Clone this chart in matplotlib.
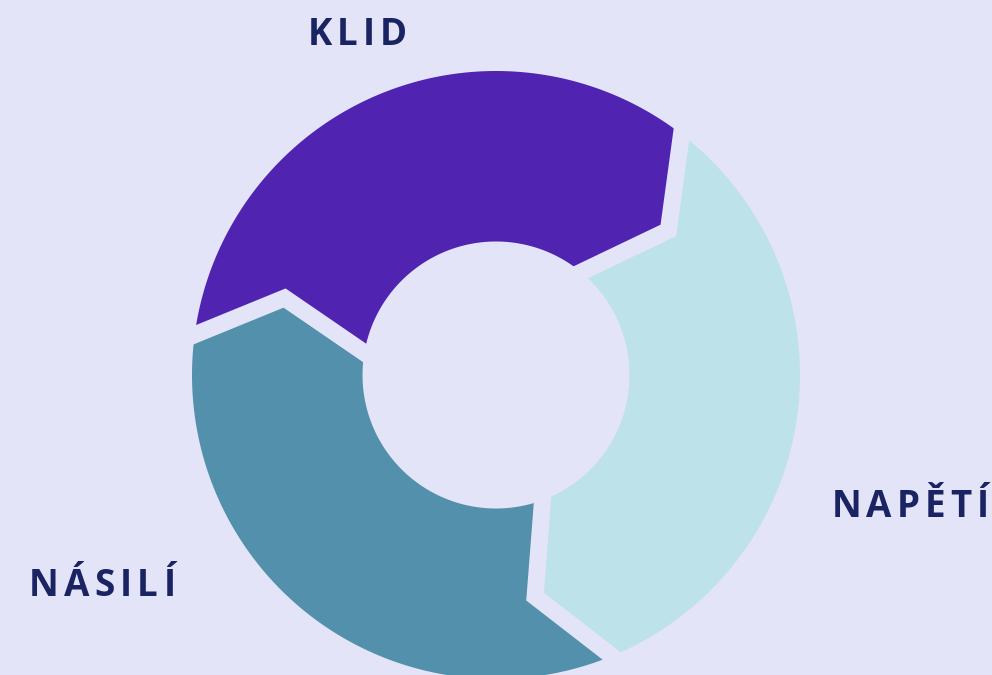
import numpy as np
import matplotlib
matplotlib.use("Agg")
from matplotlib import pyplot as plt
from matplotlib.patches import Polygon

# cycle stages, clockwise from the top
stages = ["KLID", "NAPĚTÍ", "NÁSILÍ"]
values = [1, 1, 1]
colors = ["#5024B0", "#BEE2EA", "#5390AB"]

bg = "#E4E4F8"
text_color = "#1B2463"

R_OUT = 304
R_IN = 133.5
R_MID = 225
START = 172.4      # outer angle of first boundary (deg)
TIP = 12.4         # chevron apex offset (deg, clockwise)
IN_SHIFT = 2.0     # inner corner offset (deg, clockwise)
GAP_PX = 17

fig = plt.figure(figsize=(9.92, 6.75), dpi=100)
fig.patch.set_facecolor(bg)
ax = fig.add_axes([0, 0, 1, 1])
ax.set_facecolor(bg)
ax.set_xlim(-496, 496)
ax.set_ylim(-300, 375)
ax.set_aspect("equal")
ax.set_axis_off()


def pol(r, deg):
    a = np.deg2rad(deg)
    return np.array([r * np.cos(a), r * np.sin(a)])


def chevron(b):
    return [pol(R_OUT, b), pol(R_MID, b - TIP), pol(R_IN, b - IN_SHIFT)]


spans = 360.0 * np.array(values) / sum(values)
bounds = START - np.concatenate([[0], np.cumsum(spans)])

for i, col in enumerate(colors):
    b0, b1 = bounds[i], bounds[i + 1]
    outer = [pol(R_OUT, t) for t in np.linspace(b0, b1, 120)]
    inner = [pol(R_IN, t) for t in np.linspace(b1 - IN_SHIFT, b0 - IN_SHIFT, 120)]
    pts = outer + [pol(R_MID, b1 - TIP)] + inner + [pol(R_MID, b0 - TIP)]
    ax.add_patch(Polygon(np.array(pts), closed=True, facecolor=col, edgecolor="none"))

# gaps between the segments
for b in bounds[:-1]:
    p = chevron(b)
    d0 = (p[0] - p[1]) / np.linalg.norm(p[0] - p[1])
    d2 = (p[2] - p[1]) / np.linalg.norm(p[2] - p[1])
    line = np.array([p[0] + d0 * 30, p[1], p[2] + d2 * 30])
    ax.plot(line[:, 0], line[:, 1], color=bg, lw=GAP_PX * 0.72,
            solid_joinstyle="miter", solid_capstyle="butt")


def spaced_label(cx, y, s, spacing, **kw):
    r = fig.canvas.get_renderer()
    widths = []
    for ch in s:
        t = ax.text(0, 0, ch, **kw)
        widths.append(t.get_window_extent(r).width)
        t.remove()
    total = sum(widths) + spacing * (len(s) - 1)
    x = cx - total / 2
    for ch, w in zip(s, widths):
        ax.text(x, y, ch, ha="left", va="baseline", **kw)
        x += w + spacing


font = dict(fontsize=26.5, fontweight="bold", color=text_color,
            family=["Open Sans", "DejaVu Sans"])

# label positions (image px -> data)
label_x = [357, 910, 102]
label_y = [45, 517, 596]
for s, lx, ly in zip(stages, label_x, label_y):
    spaced_label(lx - 496, 375 - ly, s, 5, **font)

fig.savefig("out.png", dpi=100, facecolor=bg)
